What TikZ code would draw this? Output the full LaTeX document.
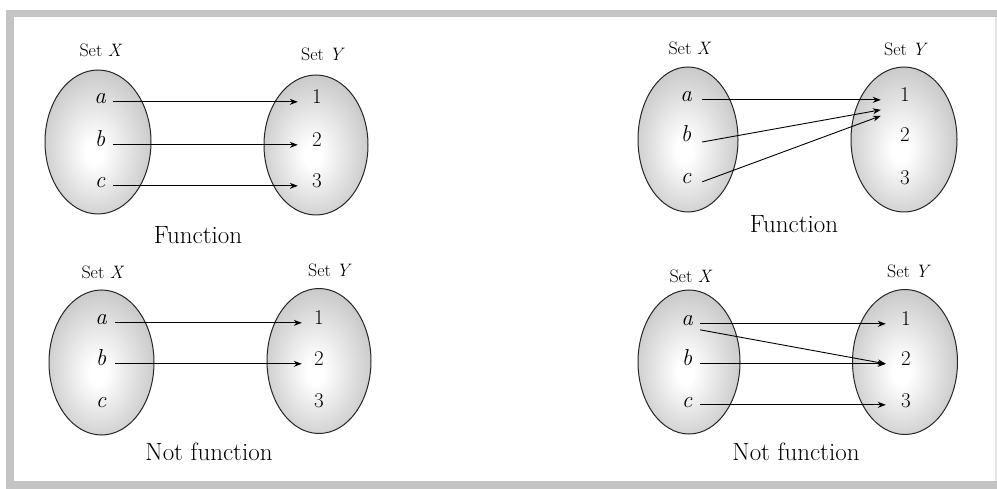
\documentclass[tikz,border=0pt]{standalone}
\usepackage{fontspec}
\setmainfont{Latin Modern Roman}
\usetikzlibrary{arrows.meta,calc}
\colorlet{setedge}{black!40}
\colorlet{setmid}{black!22}
\colorlet{setcore}{white}
% soft highlight inside each set
\pgfdeclareradialshading{setglow}{\pgfpoint{-2bp}{-4bp}}{color(0bp)=(setcore); color(4bp)=(setcore); color(28bp)=(setmid); color(50bp)=(setedge)}
\begin{document}
\begin{tikzpicture}[x=1pt,y=-1pt,
  setbody/.style={draw=black!85, line width=1pt, shading=setglow},
  setname/.style={font=\fontsize{18}{18}\selectfont, inner sep=0pt},
  elem/.style={font=\fontsize{23}{23}\selectfont\itshape, inner sep=0pt, anchor=base},
  num/.style={font=\fontsize{21}{21}\selectfont, inner sep=0pt, anchor=base},
  capt/.style={font=\fontsize{25}{25}\selectfont, inner sep=0pt, anchor=base},
  arr/.style={-{Stealth[length=8pt,width=6pt]}, line width=0.9pt},
  band/.style={fill=black!23}]
\useasboundingbox (0,0) rectangle (997,489);

% outer frame
\fill[band] (6,10) rectangle (997,17);
\fill[band] (6,10) rectangle (14,489);
\fill[band] (6,481) rectangle (997,489);
\fill[black!10] (995,17) rectangle (996.5,481);

% ---- top left: function ----
\draw[setbody] (98,142) ellipse [x radius=53, y radius=72];
\draw[setbody] (316,145) ellipse [x radius=52, y radius=70];
\node[setname] (tl-sx) at (101,50) {Set \textit{X}};
\node[setname] (tl-sy) at (323,54) {Set \textit{Y}};
\node[elem, minimum width=26pt] (tl-a) at (100,104) {a};
\node[elem, minimum width=26pt] (tl-b) at (100,147) {b};
\node[elem, minimum width=26pt] (tl-c) at (100,188) {c};
\node[num, minimum width=38pt] (tl-1) at (317,104) {1};
\node[num, minimum width=38pt] (tl-2) at (317,147) {2};
\node[num, minimum width=38pt] (tl-3) at (317,188) {3};
\node[capt] (tl-cap) at (198,244) {Function};
\draw[arr] (tl-a.mid east) -- (tl-1.mid west);
\draw[arr] (tl-b.mid east) -- (tl-2.mid west);
\draw[arr] (tl-c.mid east) -- (tl-3.mid west);

% ---- top right: function (many to one) ----
\draw[setbody] (688,139.5) ellipse [x radius=50, y radius=72.5];
\draw[setbody] (904,139.5) ellipse [x radius=53, y radius=72.5];
\node[setname] (tr-sx) at (690,48) {Set \textit{X}};
\node[setname] (tr-sy) at (906,49) {Set \textit{Y}};
\node[elem, minimum width=32pt] (tr-a) at (686,102) {a};
\node[elem, minimum width=32pt] (tr-b) at (686,142) {b};
\node[elem, minimum width=32pt] (tr-c) at (686,184) {c};
\node[num, minimum width=48pt] (tr-1) at (905,102) {1};
\node[num, minimum width=48pt] (tr-2) at (905,142) {2};
\node[num, minimum width=48pt] (tr-3) at (905,185) {3};
\node[capt] (tr-cap) at (794,233) {Function};
\draw[arr] (tr-a.mid east) -- (tr-1.mid west);
\draw[arr] (tr-b.base east) -- ($(tr-1.mid west)+(0,10)$);
\draw[arr] (tr-c.mid east) -- ($(tr-1.mid west)+(0,16)$);

% ---- bottom left: not a function ----
\draw[setbody] (101.5,362.5) ellipse [x radius=52.5, y radius=72.5];
\draw[setbody] (319,361) ellipse [x radius=52, y radius=72.5];
\node[setname] (bl-sx) at (103,272) {Set \textit{X}};
\node[setname] (bl-sy) at (330,270) {Set \textit{Y}};
\node[elem, minimum width=28pt] (bl-a) at (101,325) {a};
\node[elem, minimum width=28pt] (bl-b) at (101,366) {b};
\node[elem, minimum width=28pt] (bl-c) at (101,407) {c};
\node[num, minimum width=34pt] (bl-1) at (319,325) {1};
\node[num, minimum width=34pt] (bl-2) at (319,366) {2};
\node[num, minimum width=34pt] (bl-3) at (319,407) {3};
\node[capt] (bl-cap) at (209,460) {Not function};
\draw[arr] (bl-a.mid east) -- (bl-1.mid west);
\draw[arr] (bl-b.mid east) -- (bl-2.mid west);

% ---- bottom right: not a function (one to many) ----
\draw[setbody] (689,362) ellipse [x radius=51, y radius=72];
\draw[setbody] (905,362) ellipse [x radius=52.5, y radius=72.5];
\node[setname] (br-sx) at (691,276) {Set \textit{X}};
\node[setname] (br-sy) at (909,271) {Set \textit{Y}};
\node[elem, minimum width=26pt] (br-a) at (687,326) {a};
\node[elem, minimum width=26pt] (br-b) at (687,366) {b};
\node[elem, minimum width=26pt] (br-c) at (687,407) {c};
\node[num, minimum width=40pt] (br-1) at (906,326) {1};
\node[num, minimum width=40pt] (br-2) at (906,366) {2};
\node[num, minimum width=40pt] (br-3) at (906,407) {3};
\node[capt] (br-cap) at (796,460) {Not function};
\draw[arr] (br-a.mid east) -- (br-1.mid west);
\draw[arr] ($(br-a.mid east)+(0,6)$) -- (br-2.mid west);
\draw[arr] (br-b.mid east) -- (br-2.mid west);
\draw[arr] (br-c.mid east) -- (br-3.mid west);
\end{tikzpicture}
\end{document}
